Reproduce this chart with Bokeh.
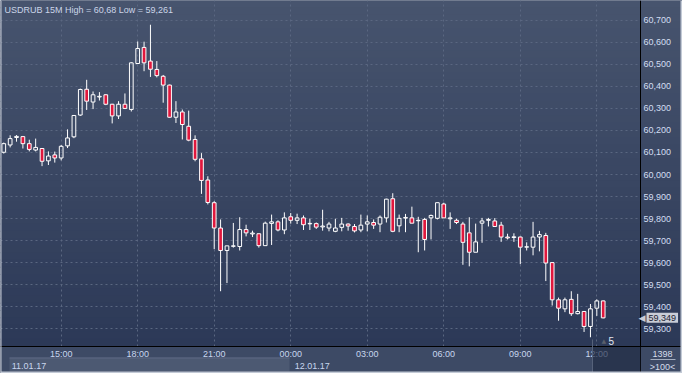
import numpy as np
from bokeh.plotting import figure
from bokeh.models import (FixedTicker, CustomJSTickFormatter, Label, BoxAnnotation,
                          LinearAxis, Grid)
from bokeh.embed import file_html
from bokeh.resources import INLINE

# ---------------- data ----------------
symbol = "USDRUB"
timeframe = "15M"

opens = [60.101, 60.134, 60.168, 60.172, 60.140, 60.111, 60.118, 60.062, 60.089, 60.075,
         60.130, 60.171, 60.270, 60.387, 60.329, 60.352, 60.362, 60.319, 60.266, 60.319,
         60.295, 60.504, 60.577, 60.515, 60.477, 60.446, 60.406, 60.260, 60.284, 60.219,
         60.159, 60.071, 59.975, 59.872, 59.757, 59.655, 59.674, 59.673, 59.750, 59.730,
         59.731, 59.677, 59.778, 59.785, 59.748, 59.808, 59.792, 59.803, 59.776, 59.777,
         59.762, 59.757, 59.742, 59.760, 59.775, 59.764, 59.748, 59.775, 59.782, 59.775,
         59.803, 59.890, 59.767, 59.802, 59.803, 59.790, 59.796, 59.803, 59.801, 59.866,
         59.799, 59.792, 59.775, 59.735, 59.647, 59.779, 59.792, 59.789, 59.770, 59.716,
         59.714, 59.716, 59.670, 59.670, 59.716, 59.723, 59.600, 59.431, 59.390, 59.433,
         59.368, 59.378, 59.310, 59.393, 59.426]
highs = [60.145, 60.178, 60.179, 60.175, 60.158, 60.163, 60.120, 60.105, 60.104, 60.134,
         60.205, 60.270, 60.390, 60.430, 60.377, 60.374, 60.365, 60.321, 60.333, 60.368,
         60.510, 60.604, 60.603, 60.680, 60.515, 60.452, 60.408, 60.333, 60.295, 60.290,
         60.178, 60.097, 59.992, 59.879, 59.796, 59.676, 59.780, 59.806, 59.772, 59.745,
         59.733, 59.786, 59.818, 59.792, 59.828, 59.825, 59.822, 59.814, 59.800, 59.782,
         59.840, 59.785, 59.799, 59.803, 59.778, 59.775, 59.818, 59.814, 59.796, 59.814,
         59.890, 59.915, 59.818, 59.821, 59.854, 59.808, 59.803, 59.818, 59.873, 59.872,
         59.828, 59.799, 59.785, 59.806, 59.777, 59.803, 59.803, 59.802, 59.785, 59.731,
         59.733, 59.718, 59.692, 59.785, 59.744, 59.735, 59.601, 59.441, 59.441, 59.470,
         59.458, 59.380, 59.412, 59.433, 59.428]
lows = [60.095, 60.123, 60.149, 60.118, 60.105, 60.105, 60.038, 60.043, 60.054, 60.064,
        60.120, 60.165, 60.266, 60.293, 60.297, 60.336, 60.315, 60.232, 60.252, 60.297,
        60.286, 60.504, 60.469, 60.443, 60.441, 60.326, 60.258, 60.234, 60.159, 60.151,
        60.060, 59.912, 59.864, 59.661, 59.470, 59.507, 59.668, 59.655, 59.719, 59.716,
        59.668, 59.677, 59.680, 59.742, 59.729, 59.777, 59.775, 59.748, 59.748, 59.753,
        59.745, 59.742, 59.738, 59.742, 59.745, 59.737, 59.738, 59.742, 59.753, 59.738,
        59.782, 59.738, 59.738, 59.738, 59.778, 59.647, 59.655, 59.705, 59.796, 59.803,
        59.753, 59.775, 59.590, 59.583, 59.647, 59.690, 59.764, 59.764, 59.694, 59.705,
        59.694, 59.593, 59.655, 59.633, 59.651, 59.516, 59.405, 59.336, 59.375, 59.358,
        59.365, 59.285, 59.261, 59.358, 59.347]
closes = [60.140, 60.163, 60.173, 60.140, 60.114, 60.123, 60.060, 60.084, 60.075, 60.128,
          60.166, 60.268, 60.386, 60.333, 60.362, 60.355, 60.319, 60.266, 60.319, 60.300,
          60.507, 60.572, 60.507, 60.478, 60.449, 60.406, 60.260, 60.284, 60.227, 60.156,
          60.069, 59.973, 59.873, 59.757, 59.655, 59.676, 59.676, 59.750, 59.735, 59.734,
          59.677, 59.779, 59.785, 59.748, 59.803, 59.792, 59.803, 59.772, 59.778, 59.761,
          59.766, 59.775, 59.757, 59.775, 59.766, 59.744, 59.770, 59.785, 59.770, 59.806,
          59.888, 59.742, 59.801, 59.805, 59.779, 59.792, 59.705, 59.814, 59.872, 59.803,
          59.803, 59.782, 59.692, 59.647, 59.694, 59.789, 59.796, 59.764, 59.716, 59.712,
          59.717, 59.670, 59.672, 59.716, 59.727, 59.598, 59.431, 59.393, 59.431, 59.368,
          59.378, 59.310, 59.390, 59.426, 59.349]

time_tick_idx = [9, 21, 33, 45, 57, 69, 81, 93]
time_tick_labels = ["15:00", "18:00", "21:00", "00:00", "03:00", "06:00", "09:00", "12:00"]
date_idx = [0, 45]
date_labels = ["11.01.17", "12.01.17"]
price_ticks = [59.3, 59.4, 59.5, 59.6, 59.7, 59.8, 59.9, 60.0,
               60.1, 60.2, 60.3, 60.4, 60.5, 60.6, 60.7]
bar_count = "1398"
zoom_text = ">100<"
scroll_text = "5"

# ---------------- helpers / layout ----------------
def fmt_price(v, trim=False):
    s = "%.3f" % v
    if trim:
        s = s.rstrip("0").rstrip(".")
    return s.replace(".", ",")

def mix(c1, c2, t):
    a = [int(c1[i:i + 2], 16) for i in (1, 3, 5)]
    b = [int(c2[i:i + 2], 16) for i in (1, 3, 5)]
    return "#%02x%02x%02x" % tuple(int(round(a[k] + (b[k] - a[k]) * t)) for k in range(3))

FONT = "Liberation Sans"
WIDTH, HEIGHT = 682, 373
PX_L, PX_R, PY_T, PY_B = 2, 640, 2, 346       # plot area in canvas pixels
X_VIEW = (-0.2, 99.85)                         # visible candle-index window
Y_VIEW = (59.219, 60.781)                      # visible price window
xs = (X_VIEW[1] - X_VIEW[0]) / (PX_R - PX_L)
ys = (Y_VIEW[1] - Y_VIEW[0]) / (PY_B - PY_T)
x_range = (X_VIEW[0] - PX_L * xs, X_VIEW[1] + (WIDTH - PX_R) * xs)
y_range = (Y_VIEW[0] - (HEIGHT - PY_B) * ys, Y_VIEW[1] + PY_T * ys)

def sy(y_from_top):
    return HEIGHT - y_from_top

o = np.array(opens); h = np.array(highs); l = np.array(lows); c = np.array(closes)
idx = np.arange(len(o))
btop = np.maximum(o, c)
bbot = np.minimum(o, c)
bull = c >= o

p = figure(width=WIDTH, height=HEIGHT, x_range=x_range, y_range=y_range,
           x_axis_type=None, y_axis_type=None,
           output_backend="svg", toolbar_location=None,
           min_border_left=0, min_border_top=0, min_border_right=0, min_border_bottom=0,
           background_fill_color="#3a4763", border_fill_color="#3a4763",
           outline_line_color=None)

def box(x0, x1, y0_top, y1_top, color, alpha=1.0, level="underlay"):
    """x in canvas px from left, y in canvas px from top."""
    b = BoxAnnotation(left=x0, right=x1, top=sy(y0_top), bottom=sy(y1_top),
                      left_units="screen", right_units="screen",
                      top_units="screen", bottom_units="screen",
                      fill_color=color, fill_alpha=alpha, line_color=None, level=level)
    p.add_layout(b)

def label(x, y_top, text, size="9px", color="#d4dcea", align="left", font=FONT, **kw):
    p.add_layout(Label(x=x, y=sy(y_top), x_units="screen", y_units="screen", text=text,
                       text_font=font, text_font_size=size, text_color=color,
                       text_baseline="middle", text_align=align, **kw))

# background gradient (plot + price column)
NSTR = 48
top_col, bot_col = "#47546e", "#2c3957"
for k in range(NSTR):
    t0 = PY_B * k / NSTR
    t1 = PY_B * (k + 1) / NSTR
    box(0, WIDTH, t0 - 0.5, t1 + 0.5, mix(top_col, bot_col, (t0 + t1) / 2 / PY_B), level="image")

# bottom strip and date band
box(0, WIDTH, PY_B, HEIGHT, "#3d4a65", level="underlay")
box(9, 289, 357, 371, "#4c5972", level="underlay")
box(9, 289, 357, 358, "#5d6983", level="underlay")

# grids
xgrid = Grid(dimension=0, ticker=FixedTicker(ticks=time_tick_idx))
ygrid = Grid(dimension=1, ticker=FixedTicker(ticks=price_ticks))
xgrid.cross_bounds = (Y_VIEW[0], y_range[1])
ygrid.cross_bounds = (x_range[0], X_VIEW[1])
for g in (xgrid, ygrid):
    g.grid_line_color = "#5a6781"
    g.grid_line_dash = "2 3"
    g.grid_line_width = 1
    p.add_layout(g)

# axes drawn at the edges of the plot area
ya = LinearAxis(fixed_location=X_VIEW[1], ticker=FixedTicker(ticks=price_ticks),
                formatter=CustomJSTickFormatter(code="return tick.toFixed(3).replace('.', ',');"))
xa = LinearAxis(fixed_location=Y_VIEW[0], ticker=FixedTicker(ticks=time_tick_idx))
xa.major_label_overrides = {i: s for i, s in zip(time_tick_idx, time_tick_labels)}
for ax in (xa, ya):
    ax.axis_line_color = "black"
    ax.axis_line_width = 1
    ax.major_tick_line_color = None
    ax.minor_tick_line_color = None
    ax.major_tick_out = 0
    ax.major_tick_in = 0
    ax.minor_tick_out = 0
    ax.minor_tick_in = 0
    ax.major_label_text_font = FONT
    ax.major_label_text_font_size = "9px"
xa.major_label_text_color = "#c8d6ee"
ya.major_label_text_color = "#d3def2"
xa.major_label_standoff = 2
ya.major_label_standoff = 3
p.add_layout(ya, "right")
p.add_layout(xa, "below")

# candles
p.segment(x0=idx, y0=h, x1=idx, y1=btop, line_color="white", line_width=1)
p.segment(x0=idx, y0=bbot, x1=idx, y1=l, line_color="white", line_width=1)
p.vbar(x=idx[bull], width=0.58, top=btop[bull], bottom=bbot[bull],
       fill_color=None, line_color="white", line_width=1)
p.vbar(x=idx[~bull], width=0.58, top=btop[~bull], bottom=bbot[~bull],
       fill_color="#e0173d", line_color="white", line_width=1)

# title
title = "%s %s High = %s Low = %s" % (symbol, timeframe, fmt_price(max(highs), True),
                                       fmt_price(min(lows), True))
label(4, 9, title, color="#cbd5e8")

# date labels
for di, dl, off in zip(date_idx, date_labels, [8, 4]):
    p.add_layout(Label(x=di, y=sy(365), x_units="data", y_units="screen", x_offset=off,
                       text=dl, text_font=FONT, text_font_size="9px",
                       text_color="#c8d6ee", text_baseline="middle"))

# scroll shade at bottom right
box(592, PX_R, PY_B + 0.5, HEIGHT - 1, "#1f2942", alpha=0.65, level="annotation")
box(591.5, 592.5, 339, HEIGHT - 1, "#56627a", level="annotation")
label(601, 340, "\u25b2", size="6px", color="#5a606c", font="DejaVu Sans")
label(608, 340, scroll_text, size="10px", color="#e2e8f2")

# corner box
label(662, 353, bar_count, align="center")
box(650, 675, 358.5, 359.5, "#a3adbf", level="annotation")
label(662, 366, zoom_text, align="center")

# last price marker
p.add_layout(Label(x=PX_R + 6, y=closes[-1], x_units="screen", y_units="data",
                   text=fmt_price(closes[-1]), text_font=FONT, text_font_size="9px",
                   text_color="#1b2231", text_baseline="middle",
                   background_fill_color="#c9cdd6", padding=2))
p.add_layout(Label(x=PX_R + 5, y=closes[-1], x_units="screen", y_units="data",
                   text="\u25c0", text_font="DejaVu Sans", text_font_size="9px",
                   text_color="#c9cdd6", text_baseline="middle", text_align="right"))

# outer light border
box(0, 1, 0, HEIGHT, "#c3cad6", level="overlay")
box(WIDTH - 2, WIDTH, 0, HEIGHT, "#c3cad6", level="overlay")
box(0, WIDTH, HEIGHT - 2, HEIGHT, "#c3cad6", level="overlay")

open("out.html", "w").write(file_html(p, INLINE))
